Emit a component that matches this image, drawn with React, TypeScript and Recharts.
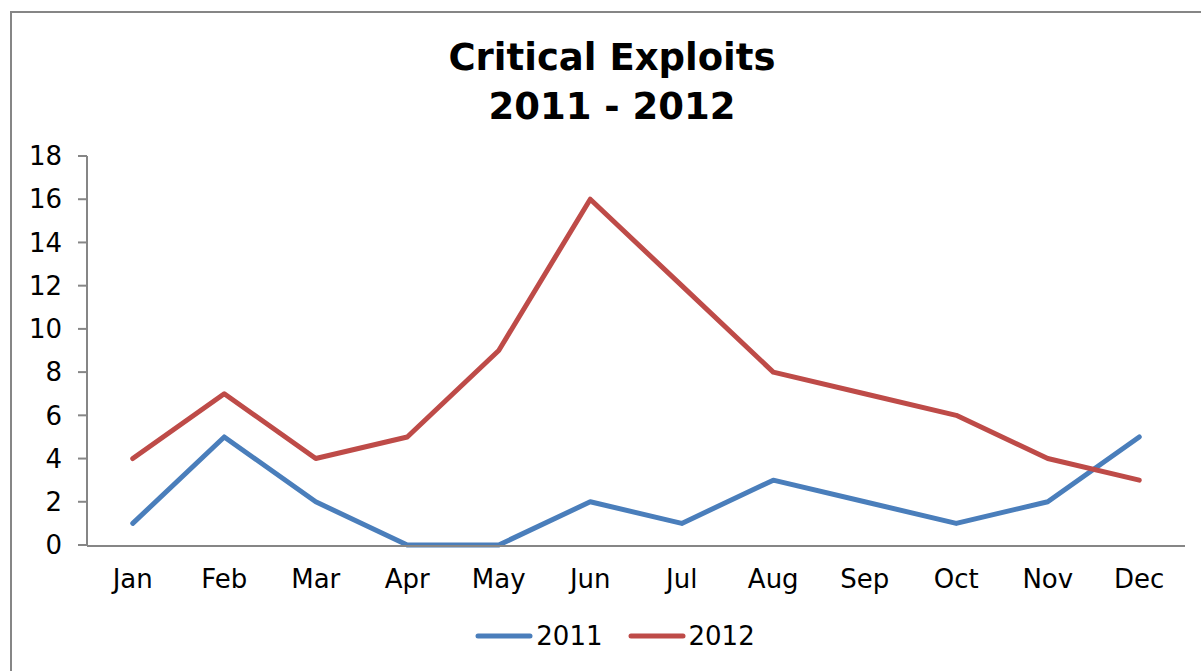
import { LineChart, Line, XAxis, YAxis, Legend } from "recharts";

const months = ["Jan", "Feb", "Mar", "Apr", "May", "Jun", "Jul", "Aug", "Sep", "Oct", "Nov", "Dec"];
const exploits2011 = [1, 5, 2, 0, 0, 2, 1, 3, 2, 1, 2, 5];
const exploits2012 = [4, 7, 4, 5, 9, 16, 12, 8, 7, 6, 4, 3];
const yTicks = [0, 2, 4, 6, 8, 10, 12, 14, 16, 18];
const bandEdges = [0, 1, 2, 3, 4, 5, 6, 7, 8, 9, 10, 11, 12];

const BLUE = "#4a7ebb";
const RED = "#be4b48";
const AXIS = "#868686";
const FONT = "'DejaVu Sans', Verdana, sans-serif";

const data = months.map((month, i) => ({
  month,
  y2011: exploits2011[i],
  y2012: exploits2012[i],
}));

const legendItems = [
  { label: "2011", color: BLUE },
  { label: "2012", color: RED },
];

function ChartLegend() {
  return (
    <div style={{ display: "flex", justifyContent: "center", gap: 25, fontFamily: FONT, fontSize: 26, lineHeight: "30px", color: "#000" }}>
      {legendItems.map((item) => (
        <div key={item.label} style={{ display: "flex", alignItems: "center" }}>
          <svg width={58} height={10}>
            <line x1={3} y1={5} x2={55} y2={5} stroke={item.color} strokeWidth={5} strokeLinecap="round" />
          </svg>
          <span style={{ marginLeft: 3 }}>{item.label}</span>
        </div>
      ))}
    </div>
  );
}

export default function App() {
  return (
    <div style={{ position: "absolute", left: 0, top: 0, width: 1201, height: 671, background: "#fff", overflow: "hidden" }}>
      <div
        style={{
          position: "absolute",
          left: 10,
          top: 11,
          width: 1220,
          height: 700,
          border: `2px solid ${AXIS}`,
          boxSizing: "border-box",
        }}
      />
      <div
        style={{
          position: "absolute",
          left: 312,
          top: 33,
          width: 600,
          textAlign: "center",
          fontFamily: FONT,
          fontWeight: "bold",
          fontSize: 37,
          lineHeight: "49px",
          color: "#000",
        }}
      >
        Critical Exploits
        <br />
        2011 - 2012
      </div>
      <div style={{ position: "absolute", left: 0, top: 0 }}>
        <LineChart width={1201} height={671} data={data} margin={{ top: 156, right: 16, bottom: 66, left: 0 }}>
          <XAxis
            xAxisId="cat"
            dataKey="month"
            height={1}
            padding={{ left: 45.75, right: 45.75 }}
            axisLine={false}
            tickLine={false}
            tickSize={0}
            tickMargin={25}
            interval={0}
            tick={{ fill: "#000", fontSize: 26, fontFamily: FONT }}
          />
          <XAxis
            xAxisId="edges"
            type="number"
            domain={[0, 12]}
            ticks={bandEdges}
            allowDataOverflow
            tick={false}
            tickSize={9}
            height={59}
            stroke={AXIS}
            strokeWidth={2}
          />
          <YAxis
            width={87}
            domain={[0, 18]}
            ticks={yTicks}
            interval={0}
            tickSize={9}
            tickMargin={16}
            stroke={AXIS}
            strokeWidth={2}
            tick={{ fill: "#000", fontSize: 26, fontFamily: FONT }}
          />
          <Legend
            verticalAlign="middle"
            align="center"
            content={<ChartLegend />}
            wrapperStyle={{ top: 621, left: 0, width: 1230 }}
          />
          <Line
            xAxisId="cat"
            type="linear"
            dataKey="y2011"
            name="2011"
            stroke={BLUE}
            strokeWidth={5}
            strokeLinecap="round"
            strokeLinejoin="round"
            dot={false}
            activeDot={false}
            isAnimationActive={false}
          />
          <Line
            xAxisId="cat"
            type="linear"
            dataKey="y2012"
            name="2012"
            stroke={RED}
            strokeWidth={5}
            strokeLinecap="round"
            strokeLinejoin="round"
            dot={false}
            activeDot={false}
            isAnimationActive={false}
          />
        </LineChart>
      </div>
    </div>
  );
}
